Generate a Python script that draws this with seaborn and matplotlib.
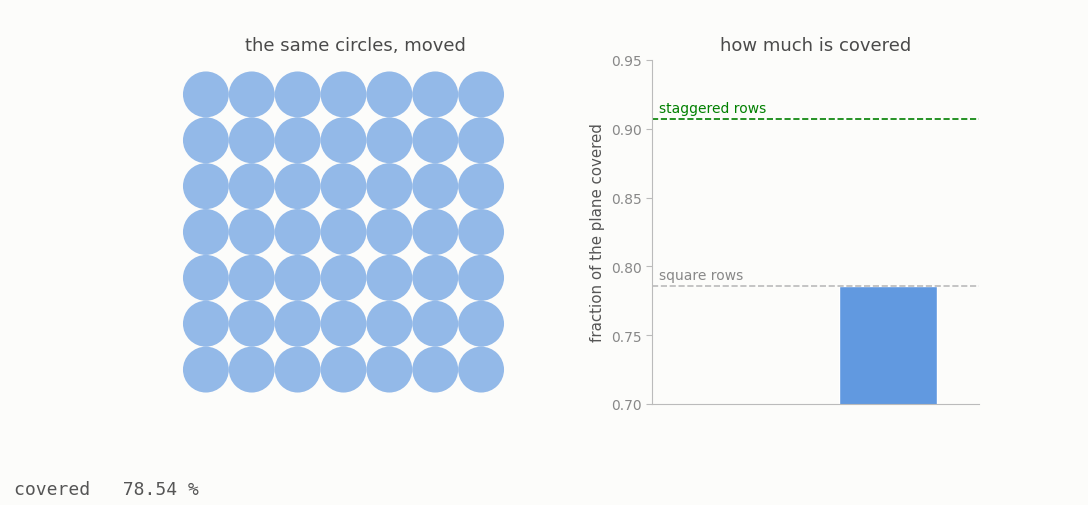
import matplotlib
matplotlib.use("Agg")
import matplotlib.pyplot as plt
from matplotlib.patches import Circle
import seaborn as sns

# circle grid (centres in grid units)
grid_cols = [0.5, 1.5, 2.5, 3.5, 4.5, 5.5, 6.5]
grid_rows = [0.5, 1.5, 2.5, 3.5, 4.5, 5.5, 6.5]
circle_radius = 0.5

# coverage bar
bar_labels = ["staggered", "square"]
bar_values = [0.0, 0.7854]
square_density = 0.7854
staggered_density = 0.9069
y_ticks = [0.70, 0.75, 0.80, 0.85, 0.90, 0.95]

bg = "#fcfcfa"
blue = "#6199e0"

sns.set_style("white")
plt.rcParams["font.family"] = ["DejaVu Sans"]

fig = plt.figure(figsize=(10.88, 5.06), dpi=100, facecolor=bg)

# left panel: circles
ax1 = fig.add_axes([171.5 / 1088, 101 / 506, 344 / 1088, 344 / 506])
ax1.set_facecolor(bg)
for cy in grid_rows:
    for cx in grid_cols:
        ax1.add_patch(Circle((cx, cy), circle_radius, facecolor=blue, alpha=0.68, edgecolor="none"))
ax1.set_xlim(-0.25, 7.25)
ax1.set_ylim(-0.25, 7.25)
ax1.set_aspect("equal")
ax1.axis("off")
ax1.set_title("the same circles, moved", fontsize=13, color="#4a4a4a", pad=7, x=0.536)

# right panel: bar
ax2 = fig.add_axes([652 / 1088, 101 / 506, 327 / 1088, 344 / 506])
ax2.set_facecolor(bg)
sns.barplot(x=bar_labels, y=bar_values, color=blue, saturation=1, width=0.6, ax=ax2)
ax2.axhline(staggered_density, color="green", linestyle="--", linewidth=1.2)
ax2.axhline(square_density, color="#bbbbbb", linestyle="--", linewidth=1.2)
ax2.text(0.02, staggered_density + 0.003, "staggered rows", color="green", fontsize=10,
         transform=ax2.get_yaxis_transform(), va="bottom")
ax2.text(0.02, square_density + 0.003, "square rows", color="#888888", fontsize=10,
         transform=ax2.get_yaxis_transform(), va="bottom")
ax2.set_xlim(-0.445, 1.557)
ax2.set_ylim(0.70, 0.95)
ax2.set_yticks(y_ticks)
ax2.set_yticklabels([f"{t:.2f}" for t in y_ticks])
ax2.set_xticks([])
ax2.tick_params(axis="y", colors="#888888", labelsize=10, length=4, color="#bbbbbb", left=True)
ax2.set_ylabel("fraction of the plane covered", fontsize=10.8, color="#555555")
ax2.set_title("how much is covered", fontsize=13, color="#4a4a4a", pad=7)
sns.despine(ax=ax2)
for s in ["left", "bottom"]:
    ax2.spines[s].set_color("#bbbbbb")

fig.text(14 / 1088, 1 - 490 / 506, "covered   78.54 %", family="DejaVu Sans Mono",
         fontsize=13, color="#555555", va="center", ha="left")

fig.savefig("out.png", dpi=100, facecolor=bg)
